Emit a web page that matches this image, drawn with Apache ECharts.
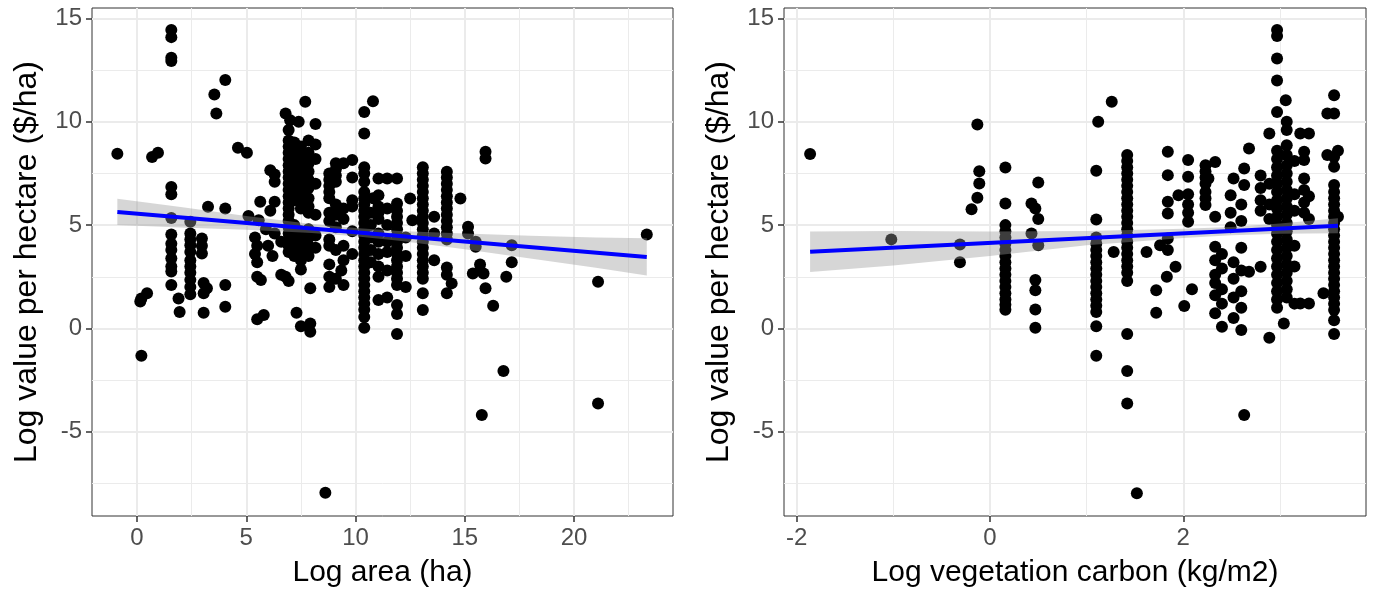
<!DOCTYPE html>
<html>
<head>
<meta charset="utf-8">
<title>Log value per hectare</title>
<script src="https://cdn.jsdelivr.net/npm/echarts@6.0.0/dist/echarts.min.js"></script>
<style>
html, body { margin: 0; padding: 0; background: #fff; }
#chart { width: 1376px; height: 598px; }
</style>
</head>
<body>
<div id="chart"></div>
<script>
// points, grouped by x: [x, [y, y, ...]]
const areaPoints = [
  [-0.9, [8.45]], [0.15, [1.3]], [0.2, [1.45, -1.32]], [0.46, [1.7]], [0.69, [8.3]], [0.96, [8.5]],
  [1.57, [14.45, 14.1, 13.1, 12.95, 6.85, 6.5, 5.35, 4.55, 4.1, 3.8, 3.4, 3.0, 2.75, 2.1]],
  [1.9, [1.45]], [1.95, [0.8]],
  [2.44, [5.16, 4.6, 4.3, 4.03, 3.7, 3.3, 3.0, 2.7, 2.35, 2.0, 1.65]],
  [2.97, [4.35, 4.0, 3.63]], [3.05, [2.2, 1.7, 0.76]], [3.2, [1.95]], [3.25, [5.89]],
  [3.54, [11.32]], [3.63, [10.4]], [4.04, [12.02, 5.81, 2.1, 1.05]],
  [4.62, [8.74]], [5.03, [8.5]], [5.1, [5.44]], [5.4, [4.4, 3.6]], [5.5, [4.0, 3.2, 2.5, 0.44]],
  [5.57, [5.24]], [5.64, [6.13]], [5.67, [2.34]], [5.8, [0.65]], [5.9, [4.8]], [6.0, [4.0]],
  [6.1, [7.66, 5.7]], [6.2, [3.5]], [6.3, [7.45, 7.1, 6.13, 4.6]], [6.6, [4.2, 2.6]], [6.8, [10.4, 2.5]],
  [6.94, [9.6, 9.1, 8.8, 8.5, 8.2, 7.9, 7.6, 7.3, 7.0, 6.7, 6.4, 6.1, 5.8, 5.5, 5.2, 4.9, 4.6, 4.3, 4.0, 3.7, 2.3]],
  [7.01, [10.08]],
  [7.2, [9.0, 8.6, 8.3, 8.0, 7.7, 7.4, 7.1, 6.8, 6.5, 6.2, 5.0, 4.5, 4.2, 3.9, 3.5]],
  [7.3, [0.76]], [7.4, [10.0]],
  [7.5, [8.8, 8.4, 8.1, 7.8, 7.4, 7.0, 6.6, 6.2, 5.8, 4.7, 4.3, 3.8, 3.3, 2.85, 0.11]],
  [7.7, [10.97]],
  [7.85, [9.1, 8.5, 8.0, 7.6, 7.2, 6.8, 6.3, 5.9, 5.6, 4.8, 4.4, 4.0, 3.5]],
  [7.93, [1.94, 0.24, -0.16]], [8.17, [9.89, 8.9, 8.2, 7.0, 5.5, 4.5, 3.9]], [8.62, [-7.95]],
  [8.8, [7.5, 7.2, 6.9, 6.6, 6.3, 5.6, 5.2, 4.3, 4.0, 3.1, 2.5, 2.0]],
  [9.1, [8.0, 7.7, 7.4, 7.1, 6.0, 5.5, 4.9, 3.8, 2.4]], [9.35, [2.8]],
  [9.45, [8.0, 5.8, 5.3, 4.0, 3.3, 2.1]], [9.85, [8.15, 7.3, 6.2, 5.9, 4.7, 3.6]],
  [10.4, [10.48, 9.44, 7.8, 7.5, 7.1, 6.6, 6.3, 6.0, 5.7, 5.4, 5.1, 4.8, 4.5, 4.2, 3.9, 3.6, 3.3, 3.0, 2.7, 2.4, 2.1, 1.8, 1.5, 1.2, 0.9, 0.55, 0.03]],
  [10.7, [5.6, 5.0, 4.4, 3.8, 3.2]], [10.8, [11.0, 6.3]],
  [11.05, [7.26, 6.45, 5.9, 5.6, 5.3, 4.6, 4.2, 3.6, 3.0, 2.5, 1.37]],
  [11.45, [7.26, 5.8, 5.0, 4.2, 3.7, 2.8, 1.5]],
  [11.9, [7.26, 6.05, 5.7, 5.4, 5.1, 4.8, 4.5, 4.2, 3.9, 3.6, 3.3, 3.0, 2.7, 2.4, 2.1, 1.13, 0.7, -0.27]],
  [12.3, [4.4, 3.5, 2.0]], [12.5, [6.29]], [12.6, [5.24]],
  [13.08, [7.8, 7.5, 7.2, 6.9, 6.6, 6.3, 6.0, 5.7, 5.4, 5.1, 4.8, 4.5, 4.2, 3.9, 3.6, 3.3, 3.0, 2.7, 2.4, 1.7, 0.89]],
  [13.6, [5.4, 4.6, 3.3]],
  [14.18, [7.58, 7.3, 7.0, 6.7, 6.4, 6.1, 5.8, 5.5, 5.2, 4.9, 4.6, 4.3, 2.95, 2.6, 1.7]],
  [14.4, [2.18]], [14.8, [6.29]], [15.15, [4.92, 4.6]], [15.37, [2.66]], [15.5, [4.2, 3.95]],
  [15.7, [3.1, 2.8]], [15.78, [-4.19]], [15.86, [2.66]], [15.95, [8.55, 8.23, 1.94]],
  [16.3, [1.1]], [16.77, [-2.06]], [16.9, [2.5]], [17.15, [4.03, 3.2]],
  [21.1, [2.26, -3.63]], [23.33, [4.55]]
];

const carbonPoints = [
  [-1.86, [8.44]], [-1.02, [4.31]], [-0.31, [4.06, 3.2]], [-0.13, [9.87, 6.32]], [-0.11, [7.61, 7.02]],
  [-0.19, [5.77]],
  [0.16, [7.79, 6.05, 5.0, 4.7, 4.4, 4.1, 3.8, 3.5, 3.2, 2.9, 2.6, 2.3, 2.0, 1.7, 1.4, 1.15, 0.9]],
  [0.43, [6.05, 4.6]], [0.47, [5.8, 2.34, 1.85, 0.92, 0.03]], [0.5, [7.06, 5.3, 4.03]],
  [1.1, [7.63, 5.27, 4.4, 4.1, 3.8, 3.5, 3.2, 2.9, 2.6, 2.3, 2.0, 1.7, 1.4, 1.1, 0.8, 0.11, -1.32]],
  [1.12, [10.0]], [1.26, [10.97]], [1.28, [3.7]],
  [1.42, [8.4, 8.1, 7.8, 7.5, 7.2, 6.9, 6.6, 6.3, 6.0, 5.7, 5.4, 5.1, 4.8, 4.5, 4.2, 3.9, 3.6, 3.3, 3.0, 2.7, 2.3, -0.27, -2.06, -3.63]],
  [1.52, [-7.98]], [1.62, [3.7]], [1.72, [1.85, 0.76]], [1.76, [4.03]], [1.83, [2.5]],
  [1.84, [8.55, 7.42, 6.13, 5.56, 4.35, 3.8]], [1.92, [2.98]], [1.95, [6.45]], [2.01, [1.08]],
  [2.05, [8.15, 7.34, 6.5, 6.0, 5.6, 5.16]], [2.09, [1.9]],
  [2.23, [7.9, 7.6, 7.3, 7.0, 6.6, 6.3, 5.97]], [2.26, [7.26]],
  [2.33, [8.06, 5.4, 3.95, 3.3, 2.6, 2.2, 1.6, 0.73]], [2.4, [3.6, 2.9, 1.9, 1.2, 0.08]],
  [2.49, [6.45, 5.6, 4.9]], [2.52, [7.26, 3.2, 2.4, 1.5, 0.5]],
  [2.6, [6.0, 5.2, 3.9, 2.8, 1.8, 1.0, -0.08]], [2.63, [7.74, 6.94, -4.19]], [2.68, [8.71, 2.74]],
  [2.8, [7.4, 6.8, 6.2, 5.7, 2.98]], [2.89, [9.44, 7.0, 6.0, 5.3, -0.45]],
  [2.97, [14.45, 14.15, 13.06, 12.0, 10.48, 8.6, 8.2, 7.8, 7.4, 7.0, 6.6, 6.2, 5.8, 5.4, 5.0, 4.6, 4.2, 3.8, 3.4, 3.0, 2.6, 2.2, 1.8, 1.4, 1.0]],
  [3.04, [0.24]], [3.06, [11.05]],
  [3.07, [10.0, 9.6, 8.87, 8.4, 7.9, 7.5, 7.1, 6.7, 6.3, 5.9, 5.5, 5.1, 4.7, 4.3, 3.9, 3.5, 3.1, 2.7, 2.3, 1.9, 1.5]],
  [3.15, [8.1, 6.5, 5.7, 4.0, 3.0, 1.2]], [3.21, [9.44, 1.21]],
  [3.25, [8.55, 8.15, 7.26, 6.7, 6.1, 5.6]], [3.3, [9.44, 6.4, 5.3, 1.21]], [3.45, [1.7]],
  [3.49, [10.4, 8.39]],
  [3.56, [11.29, 10.4, 8.3, 7.82, 6.94, 6.6, 6.3, 6.0, 5.7, 5.4, 5.1, 4.8, 4.5, 4.2, 3.9, 3.6, 3.3, 3.0, 2.7, 2.4, 2.1, 1.8, 1.5, 1.2, 0.89, 0.4, -0.27]],
  [3.6, [8.6, 5.4]]
];

// linear fits and their confidence bands, read at a few x positions
const areaFit = [[-0.9, 5.64], [23.33, 3.46]];
const areaBandX = [-0.9, 2, 5, 8, 10, 12, 15, 18, 21, 23.33];
const areaBandLow = [5.0, 4.88, 4.78, 4.62, 4.46, 4.24, 3.83, 3.39, 2.94, 2.56];
const areaBandHigh = [6.28, 5.88, 5.44, 5.06, 4.86, 4.72, 4.59, 4.49, 4.4, 4.36];

const carbonFit = [[-1.86, 3.71], [3.6, 4.97]];
const carbonBandX = [-1.86, -1, 0, 1, 2, 2.5, 3, 3.6];
const carbonBandLow = [2.73, 3.05, 3.5, 4.02, 4.38, 4.51, 4.58, 4.61];
const carbonBandHigh = [4.69, 4.71, 4.69, 4.72, 4.82, 4.91, 5.08, 5.33];

// axis breaks
const yMajor = [-5, 0, 5, 10, 15];
const yMinor = [-7.5, -2.5, 2.5, 7.5, 12.5];
const areaMajor = [0, 5, 10, 15, 20];
const areaMinor = [2.5, 7.5, 12.5, 17.5, 22.5];
const carbonMajor = [-2, 0, 2];
const carbonMinor = [-1, 1, 3];

const font = '"Liberation Sans", Arial, sans-serif';

function majorAxis(gridIndex, min, max, ticks, name, gap, nameSize) {
  return {
    type: 'value', gridIndex, min, max,
    name, nameLocation: 'middle', nameGap: gap,
    nameTextStyle: { fontFamily: font, fontSize: nameSize, color: '#000' },
    axisLine: { show: false, onZero: false },
    axisTick: { show: true, length: 6, lineStyle: { color: '#333', width: 1.5 }, customValues: ticks },
    axisLabel: { customValues: ticks, fontFamily: font, fontSize: 24, color: '#4d4d4d', margin: 10 },
    splitLine: { show: true, lineStyle: { color: '#ebebeb', width: 2 } }
  };
}

function minorAxis(gridIndex, min, max, ticks) {
  return {
    type: 'value', gridIndex, min, max,
    axisLine: { show: false, onZero: false },
    axisTick: { show: false, customValues: ticks },
    axisLabel: { show: false, customValues: ticks },
    splitLine: { show: true, lineStyle: { color: '#ebebeb', width: 1 } }
  };
}

function scatterSeries(cols, idx) {
  const data = [];
  cols.forEach(([x, ys]) => ys.forEach(y => data.push([x, y])));
  return {
    type: 'scatter', xAxisIndex: idx, yAxisIndex: idx, data,
    symbol: 'circle', symbolSize: 12, itemStyle: { color: '#000', opacity: 1 },
    z: 2, silent: true
  };
}

function bandSeries(xs, lo, hi, idx) {
  return {
    type: 'custom', xAxisIndex: idx, yAxisIndex: idx, z: 3, silent: true,
    data: [[xs[0], lo[0]]],
    renderItem: (params, api) => {
      const pts = xs.map((x, i) => api.coord([x, hi[i]]));
      for (let i = xs.length - 1; i >= 0; i--) pts.push(api.coord([xs[i], lo[i]]));
      return { type: 'polygon', shape: { points: pts }, style: { fill: 'rgba(153,153,153,0.4)' } };
    }
  };
}

function fitSeries(data, idx) {
  return {
    type: 'line', xAxisIndex: idx, yAxisIndex: idx, data,
    showSymbol: false, lineStyle: { color: '#0000ff', width: 4 }, z: 4, silent: true
  };
}

const yName = 'Log value per hectare ($/ha)';
const option = {
  animation: false,
  grid: [
    { left: 92, top: 8, width: 581, height: 508, show: true, borderColor: '#333', borderWidth: 1, backgroundColor: 'transparent' },
    { left: 784, top: 8, width: 582, height: 508, show: true, borderColor: '#333', borderWidth: 1, backgroundColor: 'transparent' }
  ],
  xAxis: [
    majorAxis(0, -2.06, 24.53, areaMajor, 'Log area (ha)', 42, 30),
    minorAxis(0, -2.06, 24.53, areaMinor),
    majorAxis(1, -2.13, 3.89, carbonMajor, 'Log vegetation carbon (kg/m2)', 42, 30),
    minorAxis(1, -2.13, 3.89, carbonMinor)
  ],
  yAxis: [
    majorAxis(0, -9.08, 15.51, yMajor, yName, 49, 32),
    minorAxis(0, -9.08, 15.51, yMinor),
    majorAxis(1, -9.08, 15.51, yMajor, yName, 49, 32),
    minorAxis(1, -9.08, 15.51, yMinor)
  ],
  series: [
    scatterSeries(areaPoints, 0),
    bandSeries(areaBandX, areaBandLow, areaBandHigh, 0),
    fitSeries(areaFit, 0),
    scatterSeries(carbonPoints, 2),
    bandSeries(carbonBandX, carbonBandLow, carbonBandHigh, 2),
    fitSeries(carbonFit, 2)
  ]
};

const chart = echarts.init(document.getElementById('chart'));
chart.setOption(option);
</script>
</body>
</html>
